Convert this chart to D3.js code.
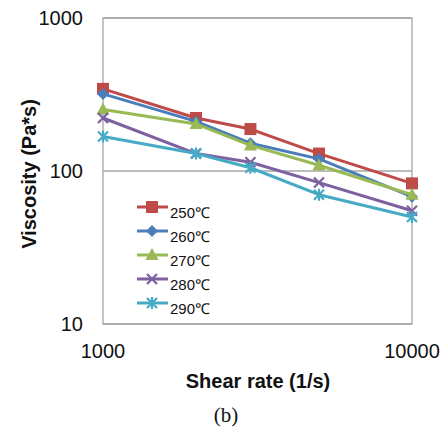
<!DOCTYPE html>
<html>
<head>
<meta charset="utf-8">
<script src="https://cdn.jsdelivr.net/npm/d3@7.9.0/dist/d3.min.js"></script>
<style>
  body { margin: 0; background: #fff; }
  svg { display: block; font-family: "Liberation Sans", Arial, sans-serif; }
</style>
</head>
<body>
<svg id="chart" width="444" height="428"></svg>
<script>
// ---------- DATA ----------
const shearRates = [1000, 2000, 3000, 5000, 10000];
const temps = ["250℃", "260℃", "270℃", "280℃", "290℃"];
const v250 = [344, 222, 188, 130, 83];
const v260 = [319, 211, 152, 120, 68];
const v270 = [252, 203, 147, 109, 70];
const v280 = [222, 130, 114, 84, 55];
const v290 = [168, 130, 105, 70, 50];
const yTicks = [10, 100, 1000];
const xTicks = [1000, 10000];

const seriesValues = [v250, v260, v270, v280, v290];
const colors = ["#BE4B48", "#4A7EBB", "#98B954", "#7D60A0", "#46AAC5"];
const symbols = ["square", "diamond", "triangle", "cross", "star"];

// ---------- LAYOUT ----------
const svg = d3.select("#chart");
const plotLeft = 103, plotRight = 412, plotTop = 18, plotBottom = 324;

const x = d3.scaleLog().domain([1000, 10000]).range([plotLeft, plotRight]);
const y = d3.scaleLog().domain([10, 1000]).range([plotBottom, plotTop]);

// GRIDLINES
svg.append("g")
  .selectAll("line")
  .data(yTicks)
  .join("line")
  .attr("x1", plotLeft).attr("x2", plotRight)
  .attr("y1", d => y(d)).attr("y2", d => y(d))
  .attr("stroke", "#a6a6a6").attr("stroke-width", 1.3);

// FRAME
svg.append("rect")
  .attr("x", plotLeft).attr("y", plotTop)
  .attr("width", plotRight - plotLeft).attr("height", plotBottom - plotTop)
  .attr("fill", "none").attr("stroke", "#a6a6a6").attr("stroke-width", 1.3);

// TICK LABELS
svg.append("g")
  .selectAll("text")
  .data(yTicks)
  .join("text")
  .attr("x", plotLeft - 20)
  .attr("y", d => y(d))
  .attr("dy", "0.36em")
  .attr("text-anchor", "end")
  .attr("font-size", 20)
  .attr("fill", "#111")
  .text(d => d);

svg.append("g")
  .selectAll("text")
  .data(xTicks)
  .join("text")
  .attr("x", d => x(d))
  .attr("y", 358)
  .attr("text-anchor", "middle")
  .attr("font-size", 20)
  .attr("fill", "#111")
  .text(d => d);

// AXIS TITLES
svg.append("text")
  .attr("x", 258).attr("y", 388)
  .attr("text-anchor", "middle")
  .attr("font-size", 20).attr("font-weight", "bold")
  .attr("fill", "#111")
  .text("Shear rate (1/s)");

svg.append("text")
  .attr("transform", "translate(36,174) rotate(-90)")
  .attr("text-anchor", "middle")
  .attr("font-size", 20).attr("font-weight", "bold")
  .attr("fill", "#111")
  .text("Viscosity (Pa*s)");

svg.append("text")
  .attr("x", 226).attr("y", 422)
  .attr("text-anchor", "middle")
  .attr("font-family", "'Liberation Serif', 'Times New Roman', serif")
  .attr("font-size", 21)
  .attr("fill", "#111")
  .text("(b)");

// ---------- MARKERS ----------
function drawMarker(g, kind, color, cx, cy) {
  if (kind === "square") {
    g.append("rect").attr("x", cx - 6).attr("y", cy - 6).attr("width", 12).attr("height", 12)
      .attr("fill", color);
  } else if (kind === "diamond") {
    g.append("path").attr("d", `M${cx},${cy - 6}L${cx + 6},${cy}L${cx},${cy + 6}L${cx - 6},${cy}Z`)
      .attr("fill", color);
  } else if (kind === "triangle") {
    g.append("path").attr("d", `M${cx},${cy - 7}L${cx + 6.5},${cy + 5}L${cx - 6.5},${cy + 5}Z`)
      .attr("fill", color);
  } else if (kind === "cross") {
    g.append("path").attr("d", `M${cx - 5},${cy - 5}L${cx + 5},${cy + 5}M${cx - 5},${cy + 5}L${cx + 5},${cy - 5}`)
      .attr("stroke", color).attr("stroke-width", 2.2);
  } else {
    g.append("path").attr("d", `M${cx - 5},${cy - 5}L${cx + 5},${cy + 5}M${cx - 5},${cy + 5}L${cx + 5},${cy - 5}M${cx},${cy - 6}L${cx},${cy + 6}`)
      .attr("stroke", color).attr("stroke-width", 2.2);
  }
}

// ---------- SERIES ----------
const line = d3.line()
  .x((d, i) => x(shearRates[i]))
  .y(d => y(d));

seriesValues.forEach((vals, s) => {
  const g = svg.append("g");
  g.append("path")
    .attr("d", line(vals))
    .attr("fill", "none")
    .attr("stroke", colors[s])
    .attr("stroke-width", 3)
    .attr("stroke-linejoin", "round");
  vals.forEach((v, i) => drawMarker(g, symbols[s], colors[s], x(shearRates[i]), y(v)));
});

// ---------- LEGEND ----------
const legend = svg.append("g");
temps.forEach((t, s) => {
  const ly = 207 + s * 24;
  legend.append("line")
    .attr("x1", 137).attr("x2", 168)
    .attr("y1", ly).attr("y2", ly)
    .attr("stroke", colors[s]).attr("stroke-width", 3);
  drawMarker(legend, symbols[s], colors[s], 152, ly);
  legend.append("text")
    .attr("x", 170).attr("y", ly + 11)
    .attr("font-size", 15)
    .attr("fill", "#111")
    .text(t);
});
</script>
</body>
</html>
